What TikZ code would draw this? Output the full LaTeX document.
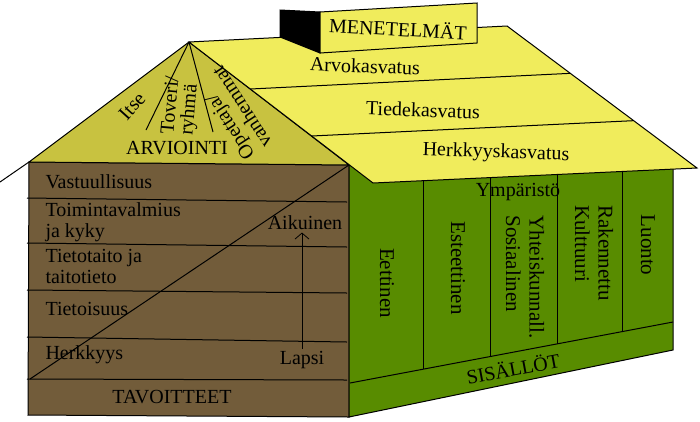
\documentclass[tikz,border=0pt]{standalone}
\usepackage{fontspec}
\setmainfont{Liberation Serif}
\usetikzlibrary{arrows.meta,calc}
\definecolor{gablecol}{RGB}{200,194,64}
\definecolor{roofcol}{RGB}{240,236,92}
\definecolor{wallcol}{RGB}{114,92,58}
\definecolor{greencol}{RGB}{88,140,0}
\tikzstyle{lbl} = [font=\fontsize{20}{21}\selectfont,inner sep=2pt]
\tikzstyle{vlbl} = [font=\fontsize{21}{23.5}\selectfont,inner sep=2pt,rotate=-90,align=left]

\begin{document}
\begin{tikzpicture}[x=1pt, y=-1pt, line width=1pt,
        every node/.style={lbl}]
        \useasboundingbox (0,0) rectangle (700,421);

        \coordinate (apex) at (189,42);
        \coordinate (ridge) at (507,26);
        \coordinate (eaveR) at (697,168);
        \coordinate (eaveL) at (373,183);
        \coordinate (bwTL) at (29,162);
        \coordinate (bwTR) at (349,165);
        \coordinate (bwBR) at (349,417);
        \coordinate (bwBL) at (28,415);
        \coordinate (gwTR) at (673,168);
        \coordinate (gwBR) at (673,350);

        % walls
        \filldraw[fill=wallcol] (bwTL) -- (bwTR) -- (bwBR) -- (bwBL) -- cycle;
        \filldraw[fill=greencol] (bwTR) -- (gwTR) -- (gwBR) -- (bwBR) -- cycle;
        \foreach \l/\r in {198/202, 243/247, 290/293, 337/342, 379/380}
          \draw (27,\l) -- (347,\r);
        \draw (30,379) -- (bwTR);
        \draw (350,383) -- (673,322);
        \foreach \x/\y in {423/369, 490/357, 557/344, 622/332}
          \draw (\x,170) -- (\x,\y);

        % gable and roof
        \draw (0,182) -- (bwTL);
        \filldraw[fill=gablecol] (apex) -- (bwTL) -- (bwTR) -- cycle;
        \draw (apex) -- (146,130);
        \draw (apex) -- (213,132);
        \filldraw[fill=roofcol] (apex) -- (ridge) -- (eaveR) -- (eaveL) -- cycle;
        \draw ($(apex)!1/3!(eaveL)$) -- ($(ridge)!1/3!(eaveR)$);
        \draw ($(apex)!2/3!(eaveL)$) -- ($(ridge)!2/3!(eaveR)$);

        % chimney
        \filldraw (280,10) -- (320,12) -- (320,53) -- (280,37) -- cycle;
        \filldraw[fill=roofcol] (320,12) -- (477,3) -- (477,43) -- (320,53) -- cycle;

        \node[rotate=-3] (menet) at (398,28) {MENETELMÄT};
        \node[rotate=-2] (arvo) at (365,66) {Arvokasvatus};
        \node[rotate=-2] (tiede) at (423,110) {Tiedekasvatus};
        \node[rotate=-2] (herkk) at (496,153) {Herkkyyskasvatus};

        \node (arv) at (177,148) {ARVIOINTI};
        \node[rotate=48] (itse) at (132,106) {Itse};
        \node[rotate=85, align=left, font=\fontsize{20}{19}\selectfont] (toveri) at (181,106) {Toveri/\\ryhmä};
        \node[rotate=123, align=left] (opett) at (233,113) {Opettaja/\\vanhemmat};

        \node[anchor=west] (vast) at (43,182) {Vastuullisuus};
        \node[anchor=west, align=left] (toim) at (43,222) {Toimintavalmius\\ja kyky};
        \node[anchor=west, align=left] (tieto) at (43,266) {Tietotaito ja\\taitotieto};
        \node[anchor=west] (tietoi) at (43,309) {Tietoisuus};
        \node[anchor=west] (herk) at (43,355) {Herkkyys};
        \node (aik) at (305,223) {Aikuinen};
        \node (lapsi) at (302,360) {Lapsi};
        \node (tav) at (172,397) {TAVOITTEET};
        \draw[line width=0.8pt, -{Straight Barb[length=6pt,width=14pt]}] (lapsi.north) -- (lapsi.north |- aik.south);

        \node[vlbl] (eett) at (387,283) {Eettinen};
        \node[vlbl] (este) at (458,268) {Esteettinen};
        \node[vlbl] (sos) at (525,277) {Yhteiskunnall.\\Sosiaalinen};
        \node (ymp) at (518,192) {Ympäristö};
        \node[vlbl] (rak) at (594,253) {Rakennettu\\Kulttuuri};
        \node[vlbl] (luonto) at (648,245) {Luonto};
        \node[rotate=10.7] (sis) at (513,368) {SISÄLLÖT};

      \end{tikzpicture}
\end{document}
